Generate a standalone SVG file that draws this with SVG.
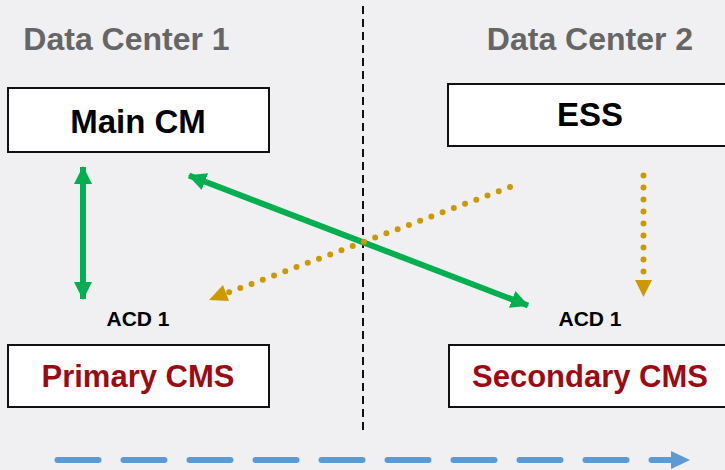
<svg xmlns="http://www.w3.org/2000/svg" width="725" height="470" viewBox="0 0 725 470">
  <style>
    .bg { fill: #f0f0f2; }
    .box { fill: #ffffff; stroke: #111111; stroke-width: 2; }
    .title { font-family: "Liberation Sans", Arial, sans-serif; font-weight: bold; font-size: 32px; fill: #666666; text-anchor: middle; }
    .lbl { font-family: "Liberation Sans", Arial, sans-serif; font-weight: bold; font-size: 33px; fill: #000000; text-anchor: middle; }
    .red { font-family: "Liberation Sans", Arial, sans-serif; font-weight: bold; font-size: 31px; fill: #9c0a14; text-anchor: middle; }
    .acd { font-family: "Liberation Sans", Arial, sans-serif; font-weight: bold; font-size: 21px; fill: #000000; text-anchor: middle; }
    .divider { stroke: #111111; stroke-width: 2; stroke-dasharray: 8 5; fill: none; }
    .green { stroke: #00b050; stroke-width: 6; fill: none; }
    .gold { stroke: #cc9a00; stroke-width: 6; stroke-linecap: round; stroke-dasharray: 0 12; fill: none; }
    .blue { stroke: #5b9bd5; stroke-width: 6; stroke-linecap: round; stroke-dasharray: 41 25; fill: none; }
  </style>
  <defs>
    <marker id="gh" markerUnits="userSpaceOnUse" viewBox="0 0 18 18" refX="17" refY="9" markerWidth="18" markerHeight="18" orient="auto-start-reverse">
      <path d="M0,0 L18,9 L0,18 Z" fill="#00b050"/>
    </marker>
  </defs>
  <rect class="bg" x="0" y="0" width="725" height="470"/>

  <text class="title" x="126.5" y="50">Data Center 1</text>
  <text class="title" x="590" y="50">Data Center 2</text>

  <line class="divider" x1="363" y1="6" x2="363" y2="435"/>

  <g id="main-cm">
    <rect class="box" x="8" y="88" width="261" height="64"/>
    <text class="lbl" x="138" y="133">Main CM</text>
  </g>
  <g id="ess">
    <rect class="box" x="448" y="84" width="290" height="62"/>
    <text class="lbl" x="590" y="126">ESS</text>
  </g>
  <g id="primary-cms">
    <text class="acd" x="138" y="326">ACD 1</text>
    <rect class="box" x="8" y="345" width="261" height="62"/>
    <text class="red" x="138" y="387">Primary CMS</text>
  </g>
  <g id="secondary-cms">
    <text class="acd" x="590" y="326">ACD 1</text>
    <rect class="box" x="449" y="345" width="290" height="62"/>
    <text class="red" x="590" y="387">Secondary CMS</text>
  </g>

  <g id="connectors">
    <line class="green" x1="83" y1="167" x2="83" y2="299" marker-start="url(#gh)" marker-end="url(#gh)"/>
    <line class="green" x1="189" y1="175.5" x2="528" y2="305.5" marker-start="url(#gh)" marker-end="url(#gh)"/>
    <line class="gold" x1="643.5" y1="175.5" x2="643.5" y2="272"/>
    <polygon points="635,280 652,280 643.5,297" fill="#cc9a00"/>
    <line class="gold" x1="510" y1="187" x2="226" y2="293.5"/>
    <polygon points="209,300 229,301 223,285" fill="#cc9a00"/>
    <line class="blue" x1="57.5" y1="460" x2="672" y2="460"/>
    <polygon points="671,451 690,460 671,469" fill="#5b9bd5"/>
  </g>
</svg>
